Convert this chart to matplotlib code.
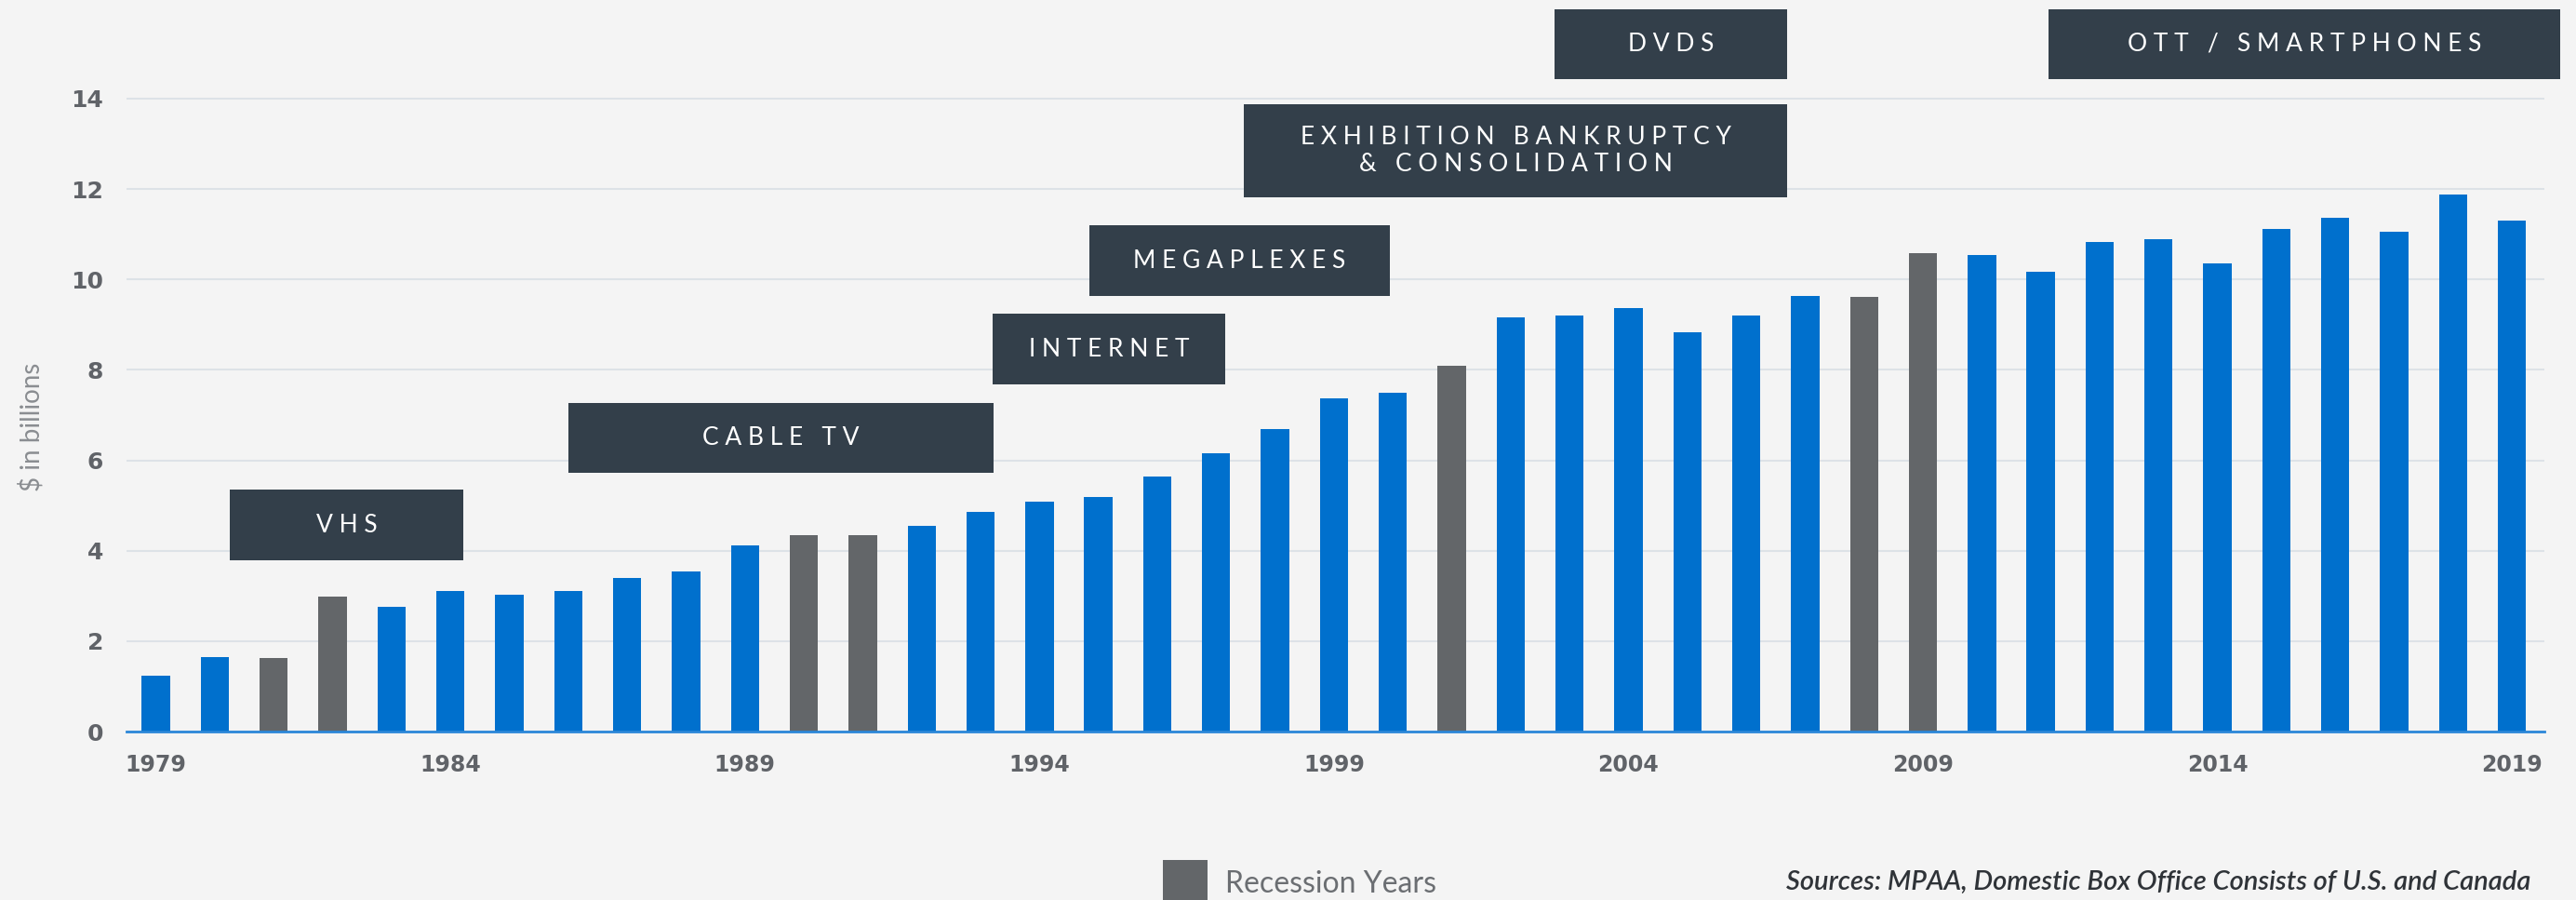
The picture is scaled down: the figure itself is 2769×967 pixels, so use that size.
"""Domestic box office by year, with recession years and media-era callouts."""

import matplotlib.pyplot as plt
from matplotlib.patches import Rectangle

years = list(range(1979, 2020))
box_office_bn = [
    1.24, 1.65, 1.62, 2.98, 2.75, 3.10, 3.03, 3.10, 3.40, 3.55,
    4.12, 4.34, 4.34, 4.55, 4.85, 5.09, 5.18, 5.64, 6.15, 6.70,
    7.38, 7.50, 8.10, 9.16, 9.20, 9.36, 8.83, 9.20, 9.64, 9.62,
    10.58, 10.55, 10.16, 10.82, 10.90, 10.35, 11.12, 11.36, 11.06, 11.87,
    11.30,
]
recession_years = [1981, 1982, 1990, 1991, 2001, 2008, 2009]
tick_years = [1979, 1984, 1989, 1994, 1999, 2004, 2009, 2014, 2019]
y_ticks = [0, 2, 4, 6, 8, 10, 12, 14]

# callout label, box in figure pixels (left, top, right, bottom)
callouts = [
    ("VHS", (247, 526, 498, 602)),
    ("CABLE TV", (611, 433, 1068, 508)),
    ("INTERNET", (1067, 337, 1317, 413)),
    ("MEGAPLEXES", (1171, 242, 1494, 318)),
    ("EXHIBITION BANKRUPTCY\n& CONSOLIDATION", (1337, 112, 1921, 212)),
    ("DVDS", (1671, 10, 1921, 85)),
    ("OTT / SMARTPHONES", (2202, 10, 2752, 85)),
]

BG = "#f4f4f4"
BLUE = "#0070cd"
GRAY = "#636669"
BOX = "#333f4a"
TEXT_GRAY = "#606368"

W, H = 2769, 967


def spaced(label):
    """Fake letter-spacing by putting a space between characters."""
    lines = []
    for line in label.split("\n"):
        words = [" ".join(word) for word in line.split(" ")]
        lines.append("   ".join(words))
    return "\n".join(lines)


fig = plt.figure(figsize=(W / 100, H / 100), dpi=100, facecolor=BG)
ax = fig.add_axes([136 / W, 1 - 786 / H, (2735 - 136) / W, (786 - 91.4) / H])
ax.set_facecolor(BG)

x = list(range(len(years)))
colors = [GRAY if y in recession_years else BLUE for y in years]
ax.bar(x, box_office_bn, width=0.48, color=colors, zorder=3)

ax.set_xlim(-0.5, len(years) - 0.45)
ax.set_ylim(0, 14.3)
ax.set_yticks(y_ticks)
ax.set_yticklabels([str(v) for v in y_ticks], fontsize=18, fontweight="bold", color=TEXT_GRAY)
ax.set_xticks([years.index(y) for y in tick_years])
ax.set_xticklabels([str(y) for y in tick_years], fontsize=17, fontweight="bold", color=TEXT_GRAY)
ax.tick_params(axis="y", length=0, pad=18)
ax.tick_params(axis="x", length=0, pad=17)
ax.grid(axis="y", color="#dde2e7", linewidth=1.5, zorder=0)

for side in ("top", "right", "left"):
    ax.spines[side].set_visible(False)
ax.spines["bottom"].set_color("#2b87d8")
ax.spines["bottom"].set_linewidth(2)
ax.spines["bottom"].set_zorder(4)

fig.text(34 / W, 1 - 459 / H, r"\$ in billions", rotation=90, ha="center", va="center",
         fontsize=20, color="#8a8d91", family="Lato")

for label, (left, top, right, bottom) in callouts:
    fig.patches.append(Rectangle((left / W, 1 - bottom / H), (right - left) / W, (bottom - top) / H,
                                 transform=fig.transFigure, facecolor=BOX, edgecolor="none", zorder=5))
    fig.text((left + right) / 2 / W, 1 - (top + bottom) / 2 / H, spaced(label),
             ha="center", va="center", fontsize=19, color="white", family="Lato",
             linespacing=1.2, zorder=6)

# legend for recession bars, cut off by the bottom edge like the original
fig.patches.append(Rectangle((1250 / W, 0), 48 / W, (H - 924) / H, transform=fig.transFigure,
                             facecolor=GRAY, edgecolor="none"))
fig.text(1317 / W, 1 - 950 / H, "Recession Years", ha="left", va="center",
         fontsize=23, color="#6b6e72", family="Lato")
fig.text(2720 / W, 1 - 948 / H, "Sources: MPAA, Domestic Box Office Consists of U.S. and Canada",
         ha="right", va="center", fontsize=21, color="#2f3338", style="italic",
         fontweight="semibold", family="Lato")

fig.savefig("out.png", dpi=100, facecolor=BG)
